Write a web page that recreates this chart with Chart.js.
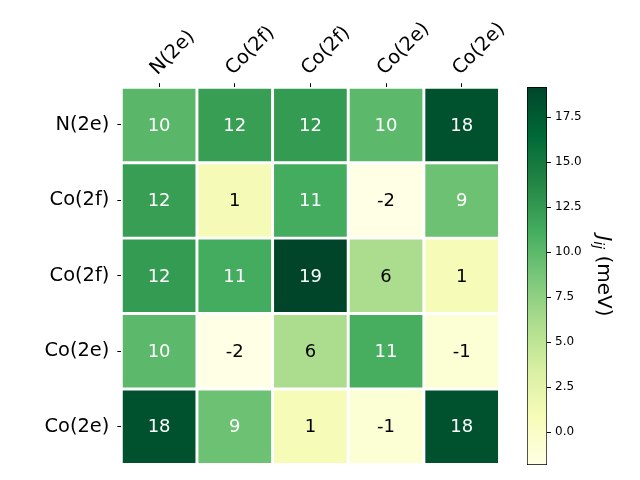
<!DOCTYPE html>
<html>
<head>
<meta charset="utf-8">
<script src="https://cdn.jsdelivr.net/npm/chart.js@4/dist/chart.umd.min.js"></script>
<style>
  body { margin: 0; background: #fff; }
  #wrap { position: relative; width: 640px; height: 480px; }
  canvas { position: absolute; left: 0; top: 0; }
</style>
</head>
<body>
<div id="wrap">
  <canvas id="heat" width="640" height="480"></canvas>
  <canvas id="cbar" width="640" height="480"></canvas>
</div>
<script>
// axis labels
const colLabels = ["N(2e)", "Co(2f)", "Co(2f)", "Co(2e)", "Co(2e)"];
const rowLabels = ["N(2e)", "Co(2f)", "Co(2f)", "Co(2e)", "Co(2e)"];

// J_ij in meV, one array per row
const row0 = [10.1, 12.2, 12.4, 10.0, 18.3];
const row1 = [12.2, 1.0, 11.2, -1.83, 9.2];
const row2 = [12.4, 11.2, 19.17, 6.1, 0.9];
const row3 = [10.0, -1.83, 6.1, 11.0, -0.8];
const row4 = [18.3, 9.2, 0.9, -0.8, 18.2];
const jij = [row0, row1, row2, row3, row4];

const cbarTicksStep = 2.5;

// YlGn colormap stops
const ylgn = ["#ffffe5", "#f7fcb9", "#d9f0a3", "#addd8e", "#78c679", "#41ab5d", "#238443", "#006837", "#004529"];

const vmin = Math.min(...jij.flat());
const vmax = Math.max(...jij.flat());

function hexRgb(h) {
    return [parseInt(h.slice(1, 3), 16), parseInt(h.slice(3, 5), 16), parseInt(h.slice(5, 7), 16)];
}
function cmap(v) {
    let t = (v - vmin) / (vmax - vmin);
    t = Math.max(0, Math.min(1, t)) * (ylgn.length - 1);
    const i = Math.min(Math.floor(t), ylgn.length - 2);
    const f = t - i;
    const a = hexRgb(ylgn[i]), b = hexRgb(ylgn[i + 1]);
    const c = a.map((x, k) => Math.round(x + (b[k] - x) * f));
    return `rgb(${c[0]},${c[1]},${c[2]})`;
}

const FONT = '"DejaVu Sans", sans-serif';

// cell numbers
const cellText = {
    id: 'cellText',
    afterDatasetsDraw(chart) {
        const ctx = chart.ctx;
        const xs = chart.scales.x, ys = chart.scales.y;
        ctx.save();
        ctx.font = '18px ' + FONT;
        ctx.textAlign = 'center';
        ctx.textBaseline = 'middle';
        jij.forEach((row, r) => {
            row.forEach((v, c) => {
                ctx.fillStyle = v > (vmin + vmax) / 2 ? '#ffffff' : '#000000';
                ctx.fillText(String(Math.round(v)), xs.getPixelForValue(c), ys.getPixelForValue(r) + 1);
            });
        });
        ctx.restore();
    }
};

new Chart(document.getElementById('heat'), {
    type: 'bar',
    data: {
        labels: colLabels,
        datasets: jij.map((row, r) => ({
            data: row.map(() => [r - 0.5, r + 0.5]),
            backgroundColor: row.map(v => cmap(v)),
            borderColor: '#ffffff',
            borderWidth: 1.8,
            borderSkipped: false,
            grouped: false,
            barPercentage: 1,
            categoryPercentage: 1
        }))
    },
    options: {
        responsive: false,
        animation: false,
        layout: { padding: { left: 0, top: 0, right: 140.5, bottom: 15.5 } },
        plugins: { legend: { display: false }, tooltip: { enabled: false } },
        scales: {
            x: {
                position: 'top',
                grid: { offset: false, drawOnChartArea: false, color: '#000', tickLength: 4 },
                border: { display: false },
                ticks: {
                    color: '#000', font: { family: FONT, size: 19.4 },
                    minRotation: 45, maxRotation: 45, autoSkip: false,
                    padding: 3, labelOffset: 11
                },
                afterFit(s) { s.height = 87.2; s.paddingLeft = 0; s.paddingRight = 0; }
            },
            y: {
                min: -0.5, max: 4.5, reverse: true,
                grid: { drawOnChartArea: false, color: '#000', tickLength: 4 },
                border: { display: false },
                afterBuildTicks(s) { s.ticks = rowLabels.map((_, i) => ({ value: i })); },
                ticks: {
                    color: '#000', font: { family: FONT, size: 19.4 }, padding: 8,
                    callback: v => rowLabels[v]
                },
                afterFit(s) { s.width = 121.3; s.paddingTop = 0; s.paddingBottom = 0; }
            }
        }
    },
    plugins: [cellText]
});

// colorbar label J_ij (meV)
const cbarLabel = {
    id: 'cbarLabel',
    afterDraw(chart) {
        const ctx = chart.ctx;
        const a = chart.chartArea;
        const ys = chart.scales.y;
        const parts = [
            { t: 'J', f: 'italic 20px ' + FONT, dy: 0 },
            { t: 'ij', f: 'italic 14px ' + FONT, dy: 4 },
            { t: ' (meV)', f: '20px ' + FONT, dy: 0 }
        ];
        ctx.save();
        let w = 0;
        parts.forEach(p => { ctx.font = p.f; p.w = ctx.measureText(p.t).width; w += p.w; });
        ctx.translate(ys.right, (a.top + a.bottom) / 2);
        ctx.rotate(Math.PI / 2);
        ctx.fillStyle = '#000';
        ctx.textBaseline = 'alphabetic';
        let x = -w / 2;
        parts.forEach(p => {
            ctx.font = p.f;
            ctx.fillText(p.t, x, 9 + p.dy);
            x += p.w;
        });
        ctx.restore();
    }
};

new Chart(document.getElementById('cbar'), {
    type: 'bar',
    data: {
        labels: [''],
        datasets: [{
            data: [[vmin, vmax]],
            backgroundColor(c) {
                const chart = c.chart;
                if (!chart.chartArea) return ylgn[4];
                const ys = chart.scales.y;
                const g = chart.ctx.createLinearGradient(0, ys.getPixelForValue(vmin), 0, ys.getPixelForValue(vmax));
                ylgn.forEach((col, i) => g.addColorStop(i / (ylgn.length - 1), col));
                return g;
            },
            borderColor: '#000',
            borderWidth: 1,
            borderSkipped: false,
            barPercentage: 1,
            categoryPercentage: 1
        }]
    },
    options: {
        responsive: false,
        animation: false,
        layout: { padding: { left: 527, top: 87, right: 33, bottom: 15 } },
        plugins: { legend: { display: false }, tooltip: { enabled: false } },
        scales: {
            x: { display: false },
            y: {
                position: 'right',
                min: vmin, max: vmax,
                grid: { drawOnChartArea: false, color: '#000', tickLength: 4 },
                border: { display: false },
                ticks: {
                    stepSize: cbarTicksStep, includeBounds: false,
                    color: '#000', font: { family: FONT, size: 12 }, padding: 4,
                    callback: v => v.toFixed(1)
                },
                afterFit(s) { s.width = 60; }
            }
        }
    },
    plugins: [cbarLabel]
});
</script>
</body>
</html>
